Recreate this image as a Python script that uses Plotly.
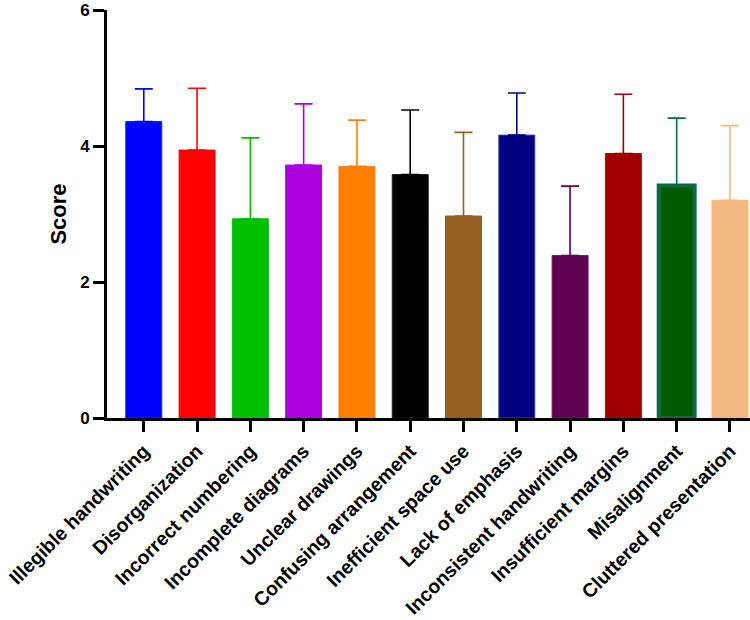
import plotly.graph_objects as go

categories = ["Illegible handwriting", "Disorganization", "Incorrect numbering",
              "Incomplete diagrams", "Unclear drawings", "Confusing arrangement",
              "Inefficient space use", "Lack of emphasis", "Inconsistent handwriting",
              "Insufficient margins", "Misalignment", "Cluttered presentation"]
means = [4.36, 3.94, 2.93, 3.72, 3.70, 3.58, 2.97, 4.16, 2.39, 3.89, 3.42, 3.20]
sd = [0.48, 0.91, 1.19, 0.90, 0.68, 0.95, 1.23, 0.62, 1.02, 0.87, 0.99, 1.10]
colors = ["#0000FF", "#FF0000", "#00C000", "#AA00DD", "#FF8000", "#000000",
          "#936020", "#000080", "#600050", "#A00000", "#005A00", "#F2B880"]
outline = ["#2020E0", "#E01010", "#20B020", "#A010D0", "#F08010", "#202020",
           "#8A6030", "#4040B0", "#702060", "#A01010", "#0B6A45", "#F0B888"]
outline_w = [1, 1, 1, 1, 1, 1, 1, 1, 1, 1, 4, 1]
y_ticks = [0, 2, 4, 6]

fig = go.Figure()
for i, cat in enumerate(categories):
    fig.add_trace(go.Bar(
        x=[i], y=[means[i]], width=0.675,
        marker=dict(color=colors[i], line=dict(color=outline[i], width=outline_w[i])),
        error_y=dict(type="data", array=[sd[i]], arrayminus=[0], symmetric=False,
                     color=colors[i] if i != 10 else outline[i], thickness=1.6, width=9),
        showlegend=False, hoverinfo="skip",
    ))

font_fam = "Liberation Sans, Arial, sans-serif"
fig.update_layout(
    width=750, height=620,
    margin=dict(l=107, r=0, t=10, b=202, autoexpand=False),
    plot_bgcolor="white", paper_bgcolor="white",
    barmode="overlay",
    font=dict(family=font_fam, color="black"),
    xaxis=dict(
        range=[-0.69, 11.376], tickmode="array",
        tickvals=list(range(len(categories))), ticktext=categories,
        tickangle=-45, tickfont=dict(size=19.5, weight="bold", family=font_fam),
        automargin=False, ticklabeloverflow="allow",
        showline=True, linecolor="black", linewidth=3,
        ticks="outside", ticklen=11, tickwidth=3, tickcolor="black",
        showgrid=False, zeroline=False,
    ),
    yaxis=dict(
        range=[0, 6], tickmode="array", tickvals=y_ticks,
        ticktext=[str(v) for v in y_ticks],
        tickfont=dict(size=17, weight="bold", family=font_fam),
        ticklabeloverflow="allow", automargin=False,
        showline=True, linecolor="black", linewidth=3,
        ticks="outside", ticklen=11, tickwidth=3, tickcolor="black",
        showgrid=False, zeroline=False,
        title=dict(text="Score", font=dict(size=22, weight="bold", family=font_fam), standoff=8),
    ),
)

fig.write_html("out.html")
